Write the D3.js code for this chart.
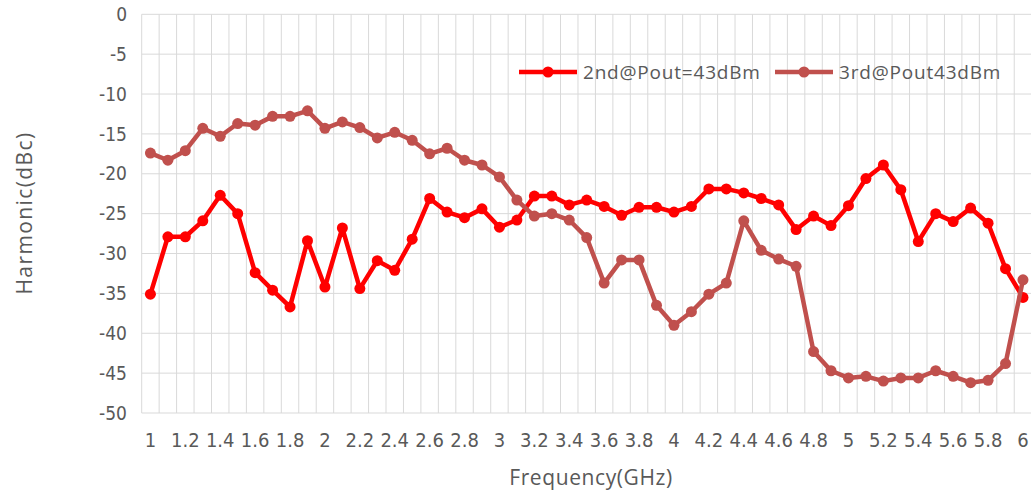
<!DOCTYPE html>
<html>
<head>
<meta charset="utf-8">
<script src="https://d3js.org/d3.v7.min.js"></script>
<style>
  body { margin: 0; background: #fff; }
  svg { display: block; }
</style>
</head>
<body>
<div class="mainDiv"></div>
<script>
// frequency categories (GHz)
const freqs = ["1","1.1","1.2","1.3","1.4","1.5","1.6","1.7","1.8","1.9","2","2.1","2.2","2.3","2.4","2.5","2.6","2.7","2.8","2.9","3",
  "3.1","3.2","3.3","3.4","3.5","3.6","3.7","3.8","3.9","4","4.1","4.2","4.3","4.4","4.5","4.6","4.7","4.8","4.9","5",
  "5.1","5.2","5.3","5.4","5.5","5.6","5.7","5.8","5.9","6"];

const second = [-35.1,-27.9,-27.9,-25.9,-22.7,-25.0,-32.4,-34.6,-36.7,-28.4,-34.2,-26.8,-34.4,-30.9,-32.1,-28.2,-23.1,
  -24.8,-25.5,-24.4,-26.7,-25.8,-22.8,-22.8,-23.9,-23.3,-24.1,-25.2,-24.2,-24.2,-24.8,-24.1,-21.9,-21.9,-22.4,-23.1,
  -23.9,-27.0,-25.3,-26.5,-24.0,-20.6,-18.9,-22.0,-28.5,-25.0,-26.0,-24.3,-26.2,-31.9,-35.5];

const third = [-17.4,-18.3,-17.1,-14.3,-15.3,-13.7,-13.9,-12.8,-12.8,-12.1,-14.3,-13.5,-14.2,-15.5,-14.8,-15.8,-17.5,
  -16.8,-18.3,-18.9,-20.4,-23.3,-25.3,-25.0,-25.8,-28.0,-33.7,-30.8,-30.8,-36.5,-39.0,-37.3,-35.1,-33.7,-25.9,-29.6,
  -30.7,-31.6,-42.3,-44.7,-45.6,-45.4,-46.0,-45.6,-45.6,-44.7,-45.4,-46.2,-45.9,-43.8,-33.3];

const yTicks = [0,-5,-10,-15,-20,-25,-30,-35,-40,-45,-50];
const seriesNames = ["2nd@Pout=43dBm", "3rd@Pout43dBm"];
const colors = ["#ff0000", "#c0504d"];

const width = 1031, height = 496;
const margin = {top: 14.3, right: -0.7, bottom: 83, left: 141.7};

const svg = d3.select('.mainDiv').append('svg')
  .attr('width', width).attr('height', height);

const x = d3.scaleBand()
  .domain(freqs)
  .range([margin.left, width - margin.right])
  .padding(0);

const y = d3.scaleLinear()
  .domain([-50, 0])
  .range([height - margin.bottom, margin.top]);

const textColor = "#595959";
const gridColor = "#d9d9d9";
const narrow = '"Liberation Sans Narrow", "DejaVu Sans Condensed", sans-serif';

// horizontal grid
svg.append('g').selectAll('line')
  .data(yTicks)
  .join('line')
  .attr('x1', margin.left).attr('x2', width)
  .attr('y1', d => y(d)).attr('y2', d => y(d))
  .attr('stroke', gridColor).attr('stroke-width', 1);

// vertical grid (category boundaries)
svg.append('g').selectAll('line')
  .data(freqs)
  .join('line')
  .attr('x1', d => x(d)).attr('x2', d => x(d))
  .attr('y1', y(0)).attr('y2', y(-50))
  .attr('stroke', gridColor).attr('stroke-width', 1);

// y tick labels
svg.append('g').selectAll('text')
  .data(yTicks)
  .join('text')
  .attr('x', 127)
  .attr('y', d => y(d))
  .attr('dy', '0.35em')
  .attr('text-anchor', 'end')
  .attr('fill', textColor)
  .style('font-family', narrow)
  .style('font-size', '19px')
  .text(d => d);

// x tick labels, every other category
svg.append('g').selectAll('text')
  .data(freqs.filter((d, i) => i % 2 === 0))
  .join('text')
  .attr('x', d => x(d) + x.bandwidth() / 2)
  .attr('y', 447)
  .attr('text-anchor', 'middle')
  .attr('fill', textColor)
  .style('font-family', narrow)
  .style('font-size', '20px')
  .text(d => d);

// axis titles
svg.append('text')
  .attr('x', 591).attr('y', 485)
  .attr('text-anchor', 'middle')
  .attr('fill', textColor)
  .style('font-family', '"Open Sans", sans-serif')
  .style('font-size', '21px')
  .style('letter-spacing', '0.6px')
  .text('Frequency(GHz)');

svg.append('text')
  .attr('transform', 'translate(32,213) rotate(-90)')
  .attr('text-anchor', 'middle')
  .attr('fill', textColor)
  .style('font-family', '"Open Sans", sans-serif')
  .style('font-size', '21px')
  .style('letter-spacing', '1.4px')
  .text('Harmonic(dBc)');

// series
const line = d3.line()
  .x((d, i) => x(freqs[i]) + x.bandwidth() / 2)
  .y(d => y(d));

[second, third].forEach((vals, s) => {
  const g = svg.append('g');
  g.append('path')
    .datum(vals)
    .attr('d', line)
    .attr('fill', 'none')
    .attr('stroke', colors[s])
    .attr('stroke-width', 4.5)
    .attr('stroke-linejoin', 'round');
  g.selectAll('circle')
    .data(vals)
    .join('circle')
    .attr('cx', (d, i) => x(freqs[i]) + x.bandwidth() / 2)
    .attr('cy', d => y(d))
    .attr('r', 5.5)
    .attr('fill', colors[s]);
});

// legend
const legendPos = [519, 775];
const legend = svg.append('g');
seriesNames.forEach((name, s) => {
  const lx = legendPos[s], ly = 72;
  legend.append('line')
    .attr('x1', lx).attr('x2', lx + 58)
    .attr('y1', ly).attr('y2', ly)
    .attr('stroke', colors[s]).attr('stroke-width', 4.5);
  legend.append('circle')
    .attr('cx', lx + 29).attr('cy', ly).attr('r', 5.5)
    .attr('fill', colors[s]);
  legend.append('text')
    .attr('x', lx + 64).attr('y', ly)
    .attr('dy', '0.35em')
    .attr('fill', textColor)
    .style('font-family', '"Open Sans", sans-serif')
    .style('font-size', '19px')
    .style('letter-spacing', '0.8px')
    .text(name);
});
</script>
</body>
</html>
